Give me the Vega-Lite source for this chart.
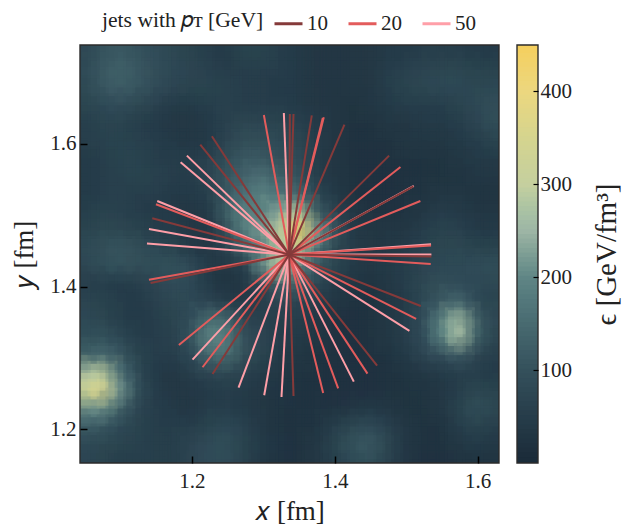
{"$schema":"https://vega.github.io/schema/vega-lite/v6.json","background":"white","padding":{"left":10,"top":8,"right":0,"bottom":4},"spacing":16,"config":{"font":"Liberation Serif","view":{"stroke":null}},"datasets":{"frame":[{"f":1}],"jets":[
{"pt":50,"x0":1.3361,"y0":1.4449,"x":1.3287,"y":1.6434},{"pt":50,"x0":1.3361,"y0":1.4449,"x":1.5105,"y":1.5411},{"pt":50,"x0":1.3361,"y0":1.4449,"x":1.5347,"y":1.4593},{"pt":50,"x0":1.3361,"y0":1.4449,"x":1.5352,"y":1.4449},{"pt":50,"x0":1.3361,"y0":1.4449,"x":1.5044,"y":1.3379},{"pt":50,"x0":1.3361,"y0":1.4449,"x":1.4266,"y":1.2669},{"pt":50,"x0":1.3361,"y0":1.4449,"x":1.3254,"y":1.2454},{"pt":50,"x0":1.3361,"y0":1.4449,"x":1.3012,"y":1.2477},{"pt":50,"x0":1.3361,"y0":1.4449,"x":1.2653,"y":1.2585},{"pt":50,"x0":1.3361,"y0":1.4449,"x":1.2009,"y":1.2977},{"pt":50,"x0":1.3361,"y0":1.4449,"x":1.1371,"y":1.4603},{"pt":50,"x0":1.3361,"y0":1.4449,"x":1.1399,"y":1.4808},{"pt":50,"x0":1.3361,"y0":1.4449,"x":1.1515,"y":1.5201},{"pt":50,"x0":1.3361,"y0":1.4449,"x":1.1842,"y":1.5743},{"pt":50,"x0":1.3361,"y0":1.4449,"x":1.1930,"y":1.5836},
{"pt":20,"x0":1.3361,"y0":1.4449,"x":1.3007,"y":1.6406},{"pt":20,"x0":1.3361,"y0":1.4449,"x":1.3846,"y":1.6373},{"pt":20,"x0":1.3361,"y0":1.4449,"x":1.3832,"y":1.6364},{"pt":20,"x0":1.3361,"y0":1.4449,"x":1.4919,"y":1.5677},{"pt":20,"x0":1.3361,"y0":1.4449,"x":1.5198,"y":1.5201},{"pt":20,"x0":1.3361,"y0":1.4449,"x":1.5347,"y":1.4575},{"pt":20,"x0":1.3361,"y0":1.4449,"x":1.5343,"y":1.4318},{"pt":20,"x0":1.3361,"y0":1.4449,"x":1.5138,"y":1.3547},{"pt":20,"x0":1.3361,"y0":1.4449,"x":1.4457,"y":1.2781},{"pt":20,"x0":1.3361,"y0":1.4449,"x":1.4047,"y":1.2575},{"pt":20,"x0":1.3361,"y0":1.4449,"x":1.3837,"y":1.2510},{"pt":20,"x0":1.3361,"y0":1.4449,"x":1.2149,"y":1.2870},{"pt":20,"x0":1.3361,"y0":1.4449,"x":1.1818,"y":1.3183},{"pt":20,"x0":1.3361,"y0":1.4449,"x":1.1399,"y":1.4098},{"pt":20,"x0":1.3361,"y0":1.4449,"x":1.1497,"y":1.5154},
{"pt":10,"x0":1.3361,"y0":1.4449,"x":1.3371,"y":1.6420},{"pt":10,"x0":1.3361,"y0":1.4449,"x":1.3422,"y":1.6420},{"pt":10,"x0":1.3361,"y0":1.4449,"x":1.3678,"y":1.6401},{"pt":10,"x0":1.3361,"y0":1.4449,"x":1.4135,"y":1.6271},{"pt":10,"x0":1.3361,"y0":1.4449,"x":1.4760,"y":1.5836},{"pt":10,"x0":1.3361,"y0":1.4449,"x":1.5100,"y":1.5406},{"pt":10,"x0":1.3361,"y0":1.4449,"x":1.5352,"y":1.4421},{"pt":10,"x0":1.3361,"y0":1.4449,"x":1.5203,"y":1.3729},{"pt":10,"x0":1.3361,"y0":1.4449,"x":1.4592,"y":1.2893},{"pt":10,"x0":1.3361,"y0":1.4449,"x":1.3422,"y":1.2468},{"pt":10,"x0":1.3361,"y0":1.4449,"x":1.2289,"y":1.2776},{"pt":10,"x0":1.3361,"y0":1.4449,"x":1.1422,"y":1.4052},{"pt":10,"x0":1.3361,"y0":1.4449,"x":1.1445,"y":1.4958},{"pt":10,"x0":1.3361,"y0":1.4449,"x":1.2117,"y":1.5990},{"pt":10,"x0":1.3361,"y0":1.4449,"x":1.2280,"y":1.6107}
],"field":[
{"x":1.05,"y":1.725,"v":75},{"x":1.075,"y":1.725,"v":105},{"x":1.1,"y":1.725,"v":120},{"x":1.125,"y":1.725,"v":105},{"x":1.15,"y":1.725,"v":90},{"x":1.175,"y":1.725,"v":80},{"x":1.2,"y":1.725,"v":70},{"x":1.225,"y":1.725,"v":55},{"x":1.25,"y":1.725,"v":50},{"x":1.275,"y":1.725,"v":70},{"x":1.3,"y":1.725,"v":70},{"x":1.325,"y":1.725,"v":55},{"x":1.35,"y":1.725,"v":45},{"x":1.375,"y":1.725,"v":40},{"x":1.4,"y":1.725,"v":35},{"x":1.425,"y":1.725,"v":35},{"x":1.45,"y":1.725,"v":40},{"x":1.475,"y":1.725,"v":45},{"x":1.5,"y":1.725,"v":50},{"x":1.525,"y":1.725,"v":55},{"x":1.55,"y":1.725,"v":60},{"x":1.575,"y":1.725,"v":55},{"x":1.6,"y":1.725,"v":50},{"x":1.625,"y":1.725,"v":50},
{"x":1.05,"y":1.7,"v":85},{"x":1.075,"y":1.7,"v":115},{"x":1.1,"y":1.7,"v":135},{"x":1.125,"y":1.7,"v":120},{"x":1.15,"y":1.7,"v":100},{"x":1.175,"y":1.7,"v":85},{"x":1.2,"y":1.7,"v":75},{"x":1.225,"y":1.7,"v":65},{"x":1.25,"y":1.7,"v":55},{"x":1.275,"y":1.7,"v":60},{"x":1.3,"y":1.7,"v":60},{"x":1.325,"y":1.7,"v":55},{"x":1.35,"y":1.7,"v":45},{"x":1.375,"y":1.7,"v":40},{"x":1.4,"y":1.7,"v":35},{"x":1.425,"y":1.7,"v":35},{"x":1.45,"y":1.7,"v":40},{"x":1.475,"y":1.7,"v":55},{"x":1.5,"y":1.7,"v":65},{"x":1.525,"y":1.7,"v":75},{"x":1.55,"y":1.7,"v":80},{"x":1.575,"y":1.7,"v":80},{"x":1.6,"y":1.7,"v":70},{"x":1.625,"y":1.7,"v":70},
{"x":1.05,"y":1.675,"v":80},{"x":1.075,"y":1.675,"v":110},{"x":1.1,"y":1.675,"v":125},{"x":1.125,"y":1.675,"v":110},{"x":1.15,"y":1.675,"v":90},{"x":1.175,"y":1.675,"v":75},{"x":1.2,"y":1.675,"v":70},{"x":1.225,"y":1.675,"v":70},{"x":1.25,"y":1.675,"v":65},{"x":1.275,"y":1.675,"v":55},{"x":1.3,"y":1.675,"v":55},{"x":1.325,"y":1.675,"v":50},{"x":1.35,"y":1.675,"v":45},{"x":1.375,"y":1.675,"v":40},{"x":1.4,"y":1.675,"v":35},{"x":1.425,"y":1.675,"v":35},{"x":1.45,"y":1.675,"v":40},{"x":1.475,"y":1.675,"v":60},{"x":1.5,"y":1.675,"v":70},{"x":1.525,"y":1.675,"v":80},{"x":1.55,"y":1.675,"v":85},{"x":1.575,"y":1.675,"v":85},{"x":1.6,"y":1.675,"v":80},{"x":1.625,"y":1.675,"v":85},
{"x":1.05,"y":1.65,"v":70},{"x":1.075,"y":1.65,"v":85},{"x":1.1,"y":1.65,"v":90},{"x":1.125,"y":1.65,"v":80},{"x":1.15,"y":1.65,"v":65},{"x":1.175,"y":1.65,"v":50},{"x":1.2,"y":1.65,"v":50},{"x":1.225,"y":1.65,"v":60},{"x":1.25,"y":1.65,"v":65},{"x":1.275,"y":1.65,"v":60},{"x":1.3,"y":1.65,"v":55},{"x":1.325,"y":1.65,"v":55},{"x":1.35,"y":1.65,"v":50},{"x":1.375,"y":1.65,"v":40},{"x":1.4,"y":1.65,"v":35},{"x":1.425,"y":1.65,"v":30},{"x":1.45,"y":1.65,"v":35},{"x":1.475,"y":1.65,"v":45},{"x":1.5,"y":1.65,"v":55},{"x":1.525,"y":1.65,"v":60},{"x":1.55,"y":1.65,"v":60},{"x":1.575,"y":1.65,"v":70},{"x":1.6,"y":1.65,"v":85},{"x":1.625,"y":1.65,"v":100},
{"x":1.05,"y":1.625,"v":60},{"x":1.075,"y":1.625,"v":70},{"x":1.1,"y":1.625,"v":70},{"x":1.125,"y":1.625,"v":60},{"x":1.15,"y":1.625,"v":50},{"x":1.175,"y":1.625,"v":40},{"x":1.2,"y":1.625,"v":38},{"x":1.225,"y":1.625,"v":45},{"x":1.25,"y":1.625,"v":65},{"x":1.275,"y":1.625,"v":80},{"x":1.3,"y":1.625,"v":75},{"x":1.325,"y":1.625,"v":70},{"x":1.35,"y":1.625,"v":65},{"x":1.375,"y":1.625,"v":50},{"x":1.4,"y":1.625,"v":35},{"x":1.425,"y":1.625,"v":30},{"x":1.45,"y":1.625,"v":30},{"x":1.475,"y":1.625,"v":35},{"x":1.5,"y":1.625,"v":40},{"x":1.525,"y":1.625,"v":45},{"x":1.55,"y":1.625,"v":45},{"x":1.575,"y":1.625,"v":55},{"x":1.6,"y":1.625,"v":75},{"x":1.625,"y":1.625,"v":95},
{"x":1.05,"y":1.6,"v":55},{"x":1.075,"y":1.6,"v":65},{"x":1.1,"y":1.6,"v":70},{"x":1.125,"y":1.6,"v":65},{"x":1.15,"y":1.6,"v":55},{"x":1.175,"y":1.6,"v":45},{"x":1.2,"y":1.6,"v":42},{"x":1.225,"y":1.6,"v":50},{"x":1.25,"y":1.6,"v":75},{"x":1.275,"y":1.6,"v":100},{"x":1.3,"y":1.6,"v":100},{"x":1.325,"y":1.6,"v":85},{"x":1.35,"y":1.6,"v":80},{"x":1.375,"y":1.6,"v":55},{"x":1.4,"y":1.6,"v":35},{"x":1.425,"y":1.6,"v":28},{"x":1.45,"y":1.6,"v":28},{"x":1.475,"y":1.6,"v":30},{"x":1.5,"y":1.6,"v":35},{"x":1.525,"y":1.6,"v":35},{"x":1.55,"y":1.6,"v":38},{"x":1.575,"y":1.6,"v":45},{"x":1.6,"y":1.6,"v":60},{"x":1.625,"y":1.6,"v":70},
{"x":1.05,"y":1.575,"v":48},{"x":1.075,"y":1.575,"v":60},{"x":1.1,"y":1.575,"v":70},{"x":1.125,"y":1.575,"v":70},{"x":1.15,"y":1.575,"v":60},{"x":1.175,"y":1.575,"v":55},{"x":1.2,"y":1.575,"v":55},{"x":1.225,"y":1.575,"v":65},{"x":1.25,"y":1.575,"v":95},{"x":1.275,"y":1.575,"v":115},{"x":1.3,"y":1.575,"v":115},{"x":1.325,"y":1.575,"v":100},{"x":1.35,"y":1.575,"v":90},{"x":1.375,"y":1.575,"v":55},{"x":1.4,"y":1.575,"v":35},{"x":1.425,"y":1.575,"v":28},{"x":1.45,"y":1.575,"v":25},{"x":1.475,"y":1.575,"v":28},{"x":1.5,"y":1.575,"v":30},{"x":1.525,"y":1.575,"v":30},{"x":1.55,"y":1.575,"v":32},{"x":1.575,"y":1.575,"v":38},{"x":1.6,"y":1.575,"v":45},{"x":1.625,"y":1.575,"v":50},
{"x":1.05,"y":1.55,"v":45},{"x":1.075,"y":1.55,"v":55},{"x":1.1,"y":1.55,"v":65},{"x":1.125,"y":1.55,"v":70},{"x":1.15,"y":1.55,"v":65},{"x":1.175,"y":1.55,"v":55},{"x":1.2,"y":1.55,"v":55},{"x":1.225,"y":1.55,"v":75},{"x":1.25,"y":1.55,"v":110},{"x":1.275,"y":1.55,"v":140},{"x":1.3,"y":1.55,"v":165},{"x":1.325,"y":1.55,"v":130},{"x":1.35,"y":1.55,"v":105},{"x":1.375,"y":1.55,"v":60},{"x":1.4,"y":1.55,"v":38},{"x":1.425,"y":1.55,"v":28},{"x":1.45,"y":1.55,"v":25},{"x":1.475,"y":1.55,"v":25},{"x":1.5,"y":1.55,"v":28},{"x":1.525,"y":1.55,"v":28},{"x":1.55,"y":1.55,"v":30},{"x":1.575,"y":1.55,"v":32},{"x":1.6,"y":1.55,"v":35},{"x":1.625,"y":1.55,"v":38},
{"x":1.05,"y":1.525,"v":50},{"x":1.075,"y":1.525,"v":60},{"x":1.1,"y":1.525,"v":65},{"x":1.125,"y":1.525,"v":60},{"x":1.15,"y":1.525,"v":55},{"x":1.175,"y":1.525,"v":50},{"x":1.2,"y":1.525,"v":45},{"x":1.225,"y":1.525,"v":60},{"x":1.25,"y":1.525,"v":110},{"x":1.275,"y":1.525,"v":170},{"x":1.3,"y":1.525,"v":190},{"x":1.325,"y":1.525,"v":170},{"x":1.35,"y":1.525,"v":150},{"x":1.375,"y":1.525,"v":85},{"x":1.4,"y":1.525,"v":45},{"x":1.425,"y":1.525,"v":30},{"x":1.45,"y":1.525,"v":25},{"x":1.475,"y":1.525,"v":25},{"x":1.5,"y":1.525,"v":28},{"x":1.525,"y":1.525,"v":32},{"x":1.55,"y":1.525,"v":38},{"x":1.575,"y":1.525,"v":38},{"x":1.6,"y":1.525,"v":32},{"x":1.625,"y":1.525,"v":32},
{"x":1.05,"y":1.5,"v":60},{"x":1.075,"y":1.5,"v":70},{"x":1.1,"y":1.5,"v":65},{"x":1.125,"y":1.5,"v":55},{"x":1.15,"y":1.5,"v":50},{"x":1.175,"y":1.5,"v":45},{"x":1.2,"y":1.5,"v":38},{"x":1.225,"y":1.5,"v":50},{"x":1.25,"y":1.5,"v":130},{"x":1.275,"y":1.5,"v":190},{"x":1.3,"y":1.5,"v":190},{"x":1.325,"y":1.5,"v":240},{"x":1.35,"y":1.5,"v":300},{"x":1.375,"y":1.5,"v":130},{"x":1.4,"y":1.5,"v":75},{"x":1.425,"y":1.5,"v":40},{"x":1.45,"y":1.5,"v":30},{"x":1.475,"y":1.5,"v":28},{"x":1.5,"y":1.5,"v":32},{"x":1.525,"y":1.5,"v":42},{"x":1.55,"y":1.5,"v":55},{"x":1.575,"y":1.5,"v":50},{"x":1.6,"y":1.5,"v":38},{"x":1.625,"y":1.5,"v":35},
{"x":1.05,"y":1.475,"v":70},{"x":1.075,"y":1.475,"v":80},{"x":1.1,"y":1.475,"v":80},{"x":1.125,"y":1.475,"v":70},{"x":1.15,"y":1.475,"v":60},{"x":1.175,"y":1.475,"v":55},{"x":1.2,"y":1.475,"v":35},{"x":1.225,"y":1.475,"v":35},{"x":1.25,"y":1.475,"v":100},{"x":1.275,"y":1.475,"v":190},{"x":1.3,"y":1.475,"v":220},{"x":1.325,"y":1.475,"v":300},{"x":1.35,"y":1.475,"v":450},{"x":1.375,"y":1.475,"v":230},{"x":1.4,"y":1.475,"v":110},{"x":1.425,"y":1.475,"v":50},{"x":1.45,"y":1.475,"v":35},{"x":1.475,"y":1.475,"v":35},{"x":1.5,"y":1.475,"v":40},{"x":1.525,"y":1.475,"v":55},{"x":1.55,"y":1.475,"v":70},{"x":1.575,"y":1.475,"v":65},{"x":1.6,"y":1.475,"v":50},{"x":1.625,"y":1.475,"v":45},
{"x":1.05,"y":1.45,"v":85},{"x":1.075,"y":1.45,"v":100},{"x":1.1,"y":1.45,"v":110},{"x":1.125,"y":1.45,"v":100},{"x":1.15,"y":1.45,"v":85},{"x":1.175,"y":1.45,"v":70},{"x":1.2,"y":1.45,"v":50},{"x":1.225,"y":1.45,"v":40},{"x":1.25,"y":1.45,"v":65},{"x":1.275,"y":1.45,"v":130},{"x":1.3,"y":1.45,"v":190},{"x":1.325,"y":1.45,"v":280},{"x":1.35,"y":1.45,"v":300},{"x":1.375,"y":1.45,"v":170},{"x":1.4,"y":1.45,"v":80},{"x":1.425,"y":1.45,"v":55},{"x":1.45,"y":1.45,"v":40},{"x":1.475,"y":1.45,"v":40},{"x":1.5,"y":1.45,"v":50},{"x":1.525,"y":1.45,"v":65},{"x":1.55,"y":1.45,"v":80},{"x":1.575,"y":1.45,"v":80},{"x":1.6,"y":1.45,"v":70},{"x":1.625,"y":1.45,"v":70},
{"x":1.05,"y":1.425,"v":75},{"x":1.075,"y":1.425,"v":95},{"x":1.1,"y":1.425,"v":105},{"x":1.125,"y":1.425,"v":100},{"x":1.15,"y":1.425,"v":95},{"x":1.175,"y":1.425,"v":105},{"x":1.2,"y":1.425,"v":90},{"x":1.225,"y":1.425,"v":50},{"x":1.25,"y":1.425,"v":38},{"x":1.275,"y":1.425,"v":60},{"x":1.3,"y":1.425,"v":210},{"x":1.325,"y":1.425,"v":290},{"x":1.35,"y":1.425,"v":200},{"x":1.375,"y":1.425,"v":110},{"x":1.4,"y":1.425,"v":80},{"x":1.425,"y":1.425,"v":45},{"x":1.45,"y":1.425,"v":40},{"x":1.475,"y":1.425,"v":45},{"x":1.5,"y":1.425,"v":60},{"x":1.525,"y":1.425,"v":75},{"x":1.55,"y":1.425,"v":85},{"x":1.575,"y":1.425,"v":85},{"x":1.6,"y":1.425,"v":90},{"x":1.625,"y":1.425,"v":95},
{"x":1.05,"y":1.4,"v":60},{"x":1.075,"y":1.4,"v":60},{"x":1.1,"y":1.4,"v":50},{"x":1.125,"y":1.4,"v":55},{"x":1.15,"y":1.4,"v":75},{"x":1.175,"y":1.4,"v":90},{"x":1.2,"y":1.4,"v":85},{"x":1.225,"y":1.4,"v":50},{"x":1.25,"y":1.4,"v":32},{"x":1.275,"y":1.4,"v":35},{"x":1.3,"y":1.4,"v":75},{"x":1.325,"y":1.4,"v":130},{"x":1.35,"y":1.4,"v":130},{"x":1.375,"y":1.4,"v":85},{"x":1.4,"y":1.4,"v":50},{"x":1.425,"y":1.4,"v":35},{"x":1.45,"y":1.4,"v":32},{"x":1.475,"y":1.4,"v":38},{"x":1.5,"y":1.4,"v":55},{"x":1.525,"y":1.4,"v":80},{"x":1.55,"y":1.4,"v":100},{"x":1.575,"y":1.4,"v":90},{"x":1.6,"y":1.4,"v":85},{"x":1.625,"y":1.4,"v":80},
{"x":1.05,"y":1.375,"v":75},{"x":1.075,"y":1.375,"v":70},{"x":1.1,"y":1.375,"v":55},{"x":1.125,"y":1.375,"v":50},{"x":1.15,"y":1.375,"v":65},{"x":1.175,"y":1.375,"v":80},{"x":1.2,"y":1.375,"v":85},{"x":1.225,"y":1.375,"v":75},{"x":1.25,"y":1.375,"v":60},{"x":1.275,"y":1.375,"v":45},{"x":1.3,"y":1.375,"v":60},{"x":1.325,"y":1.375,"v":75},{"x":1.35,"y":1.375,"v":75},{"x":1.375,"y":1.375,"v":55},{"x":1.4,"y":1.375,"v":35},{"x":1.425,"y":1.375,"v":28},{"x":1.45,"y":1.375,"v":28},{"x":1.475,"y":1.375,"v":35},{"x":1.5,"y":1.375,"v":50},{"x":1.525,"y":1.375,"v":85},{"x":1.55,"y":1.375,"v":120},{"x":1.575,"y":1.375,"v":150},{"x":1.6,"y":1.375,"v":85},{"x":1.625,"y":1.375,"v":70},
{"x":1.05,"y":1.35,"v":85},{"x":1.075,"y":1.35,"v":80},{"x":1.1,"y":1.35,"v":60},{"x":1.125,"y":1.35,"v":50},{"x":1.15,"y":1.35,"v":55},{"x":1.175,"y":1.35,"v":70},{"x":1.2,"y":1.35,"v":90},{"x":1.225,"y":1.35,"v":160},{"x":1.25,"y":1.35,"v":150},{"x":1.275,"y":1.35,"v":75},{"x":1.3,"y":1.35,"v":65},{"x":1.325,"y":1.35,"v":60},{"x":1.35,"y":1.35,"v":55},{"x":1.375,"y":1.35,"v":42},{"x":1.4,"y":1.35,"v":28},{"x":1.425,"y":1.35,"v":26},{"x":1.45,"y":1.35,"v":30},{"x":1.475,"y":1.35,"v":38},{"x":1.5,"y":1.35,"v":55},{"x":1.525,"y":1.35,"v":90},{"x":1.55,"y":1.35,"v":190},{"x":1.575,"y":1.35,"v":270},{"x":1.6,"y":1.35,"v":130},{"x":1.625,"y":1.35,"v":75},
{"x":1.05,"y":1.325,"v":95},{"x":1.075,"y":1.325,"v":105},{"x":1.1,"y":1.325,"v":85},{"x":1.125,"y":1.325,"v":60},{"x":1.15,"y":1.325,"v":55},{"x":1.175,"y":1.325,"v":65},{"x":1.2,"y":1.325,"v":105},{"x":1.225,"y":1.325,"v":200},{"x":1.25,"y":1.325,"v":190},{"x":1.275,"y":1.325,"v":100},{"x":1.3,"y":1.325,"v":75},{"x":1.325,"y":1.325,"v":60},{"x":1.35,"y":1.325,"v":45},{"x":1.375,"y":1.325,"v":35},{"x":1.4,"y":1.325,"v":28},{"x":1.425,"y":1.325,"v":26},{"x":1.45,"y":1.325,"v":30},{"x":1.475,"y":1.325,"v":40},{"x":1.5,"y":1.325,"v":60},{"x":1.525,"y":1.325,"v":90},{"x":1.55,"y":1.325,"v":190},{"x":1.575,"y":1.325,"v":270},{"x":1.6,"y":1.325,"v":130},{"x":1.625,"y":1.325,"v":70},
{"x":1.05,"y":1.3,"v":130},{"x":1.075,"y":1.3,"v":150},{"x":1.1,"y":1.3,"v":115},{"x":1.125,"y":1.3,"v":70},{"x":1.15,"y":1.3,"v":55},{"x":1.175,"y":1.3,"v":55},{"x":1.2,"y":1.3,"v":85},{"x":1.225,"y":1.3,"v":150},{"x":1.25,"y":1.3,"v":160},{"x":1.275,"y":1.3,"v":100},{"x":1.3,"y":1.3,"v":70},{"x":1.325,"y":1.3,"v":50},{"x":1.35,"y":1.3,"v":38},{"x":1.375,"y":1.3,"v":30},{"x":1.4,"y":1.3,"v":28},{"x":1.425,"y":1.3,"v":26},{"x":1.45,"y":1.3,"v":28},{"x":1.475,"y":1.3,"v":32},{"x":1.5,"y":1.3,"v":45},{"x":1.525,"y":1.3,"v":75},{"x":1.55,"y":1.3,"v":90},{"x":1.575,"y":1.3,"v":115},{"x":1.6,"y":1.3,"v":75},{"x":1.625,"y":1.3,"v":55},
{"x":1.05,"y":1.275,"v":270},{"x":1.075,"y":1.275,"v":300},{"x":1.1,"y":1.275,"v":170},{"x":1.125,"y":1.275,"v":85},{"x":1.15,"y":1.275,"v":50},{"x":1.175,"y":1.275,"v":42},{"x":1.2,"y":1.275,"v":55},{"x":1.225,"y":1.275,"v":75},{"x":1.25,"y":1.275,"v":80},{"x":1.275,"y":1.275,"v":65},{"x":1.3,"y":1.275,"v":50},{"x":1.325,"y":1.275,"v":40},{"x":1.35,"y":1.275,"v":32},{"x":1.375,"y":1.275,"v":28},{"x":1.4,"y":1.275,"v":26},{"x":1.425,"y":1.275,"v":26},{"x":1.45,"y":1.275,"v":26},{"x":1.475,"y":1.275,"v":28},{"x":1.5,"y":1.275,"v":32},{"x":1.525,"y":1.275,"v":40},{"x":1.55,"y":1.275,"v":50},{"x":1.575,"y":1.275,"v":55},{"x":1.6,"y":1.275,"v":55},{"x":1.625,"y":1.275,"v":48},
{"x":1.05,"y":1.25,"v":340},{"x":1.075,"y":1.25,"v":360},{"x":1.1,"y":1.25,"v":220},{"x":1.125,"y":1.25,"v":95},{"x":1.15,"y":1.25,"v":55},{"x":1.175,"y":1.25,"v":40},{"x":1.2,"y":1.25,"v":40},{"x":1.225,"y":1.25,"v":50},{"x":1.25,"y":1.25,"v":55},{"x":1.275,"y":1.25,"v":50},{"x":1.3,"y":1.25,"v":40},{"x":1.325,"y":1.25,"v":33},{"x":1.35,"y":1.25,"v":30},{"x":1.375,"y":1.25,"v":28},{"x":1.4,"y":1.25,"v":26},{"x":1.425,"y":1.25,"v":26},{"x":1.45,"y":1.25,"v":26},{"x":1.475,"y":1.25,"v":28},{"x":1.5,"y":1.25,"v":30},{"x":1.525,"y":1.25,"v":32},{"x":1.55,"y":1.25,"v":38},{"x":1.575,"y":1.25,"v":60},{"x":1.6,"y":1.25,"v":80},{"x":1.625,"y":1.25,"v":70},
{"x":1.05,"y":1.225,"v":200},{"x":1.075,"y":1.225,"v":210},{"x":1.1,"y":1.225,"v":130},{"x":1.125,"y":1.225,"v":75},{"x":1.15,"y":1.225,"v":55},{"x":1.175,"y":1.225,"v":45},{"x":1.2,"y":1.225,"v":42},{"x":1.225,"y":1.225,"v":55},{"x":1.25,"y":1.225,"v":60},{"x":1.275,"y":1.225,"v":50},{"x":1.3,"y":1.225,"v":38},{"x":1.325,"y":1.225,"v":30},{"x":1.35,"y":1.225,"v":28},{"x":1.375,"y":1.225,"v":28},{"x":1.4,"y":1.225,"v":32},{"x":1.425,"y":1.225,"v":40},{"x":1.45,"y":1.225,"v":45},{"x":1.475,"y":1.225,"v":38},{"x":1.5,"y":1.225,"v":30},{"x":1.525,"y":1.225,"v":30},{"x":1.55,"y":1.225,"v":35},{"x":1.575,"y":1.225,"v":70},{"x":1.6,"y":1.225,"v":95},{"x":1.625,"y":1.225,"v":80},
{"x":1.05,"y":1.2,"v":115},{"x":1.075,"y":1.2,"v":110},{"x":1.1,"y":1.2,"v":85},{"x":1.125,"y":1.2,"v":70},{"x":1.15,"y":1.2,"v":60},{"x":1.175,"y":1.2,"v":55},{"x":1.2,"y":1.2,"v":55},{"x":1.225,"y":1.2,"v":70},{"x":1.25,"y":1.2,"v":85},{"x":1.275,"y":1.2,"v":65},{"x":1.3,"y":1.2,"v":42},{"x":1.325,"y":1.2,"v":32},{"x":1.35,"y":1.2,"v":28},{"x":1.375,"y":1.2,"v":32},{"x":1.4,"y":1.2,"v":55},{"x":1.425,"y":1.2,"v":80},{"x":1.45,"y":1.2,"v":90},{"x":1.475,"y":1.2,"v":65},{"x":1.5,"y":1.2,"v":38},{"x":1.525,"y":1.2,"v":28},{"x":1.55,"y":1.2,"v":30},{"x":1.575,"y":1.2,"v":55},{"x":1.6,"y":1.2,"v":70},{"x":1.625,"y":1.2,"v":60},
{"x":1.05,"y":1.175,"v":85},{"x":1.075,"y":1.175,"v":80},{"x":1.1,"y":1.175,"v":70},{"x":1.125,"y":1.175,"v":65},{"x":1.15,"y":1.175,"v":60},{"x":1.175,"y":1.175,"v":60},{"x":1.2,"y":1.175,"v":75},{"x":1.225,"y":1.175,"v":90},{"x":1.25,"y":1.175,"v":95},{"x":1.275,"y":1.175,"v":70},{"x":1.3,"y":1.175,"v":45},{"x":1.325,"y":1.175,"v":33},{"x":1.35,"y":1.175,"v":28},{"x":1.375,"y":1.175,"v":38},{"x":1.4,"y":1.175,"v":70},{"x":1.425,"y":1.175,"v":105},{"x":1.45,"y":1.175,"v":115},{"x":1.475,"y":1.175,"v":80},{"x":1.5,"y":1.175,"v":42},{"x":1.525,"y":1.175,"v":28},{"x":1.55,"y":1.175,"v":28},{"x":1.575,"y":1.175,"v":38},{"x":1.6,"y":1.175,"v":45},{"x":1.625,"y":1.175,"v":42},
{"x":1.05,"y":1.15,"v":75},{"x":1.075,"y":1.15,"v":70},{"x":1.1,"y":1.15,"v":60},{"x":1.125,"y":1.15,"v":60},{"x":1.15,"y":1.15,"v":60},{"x":1.175,"y":1.15,"v":60},{"x":1.2,"y":1.15,"v":75},{"x":1.225,"y":1.15,"v":90},{"x":1.25,"y":1.15,"v":90},{"x":1.275,"y":1.15,"v":65},{"x":1.3,"y":1.15,"v":40},{"x":1.325,"y":1.15,"v":30},{"x":1.35,"y":1.15,"v":28},{"x":1.375,"y":1.15,"v":35},{"x":1.4,"y":1.15,"v":60},{"x":1.425,"y":1.15,"v":85},{"x":1.45,"y":1.15,"v":95},{"x":1.475,"y":1.15,"v":65},{"x":1.5,"y":1.15,"v":35},{"x":1.525,"y":1.15,"v":25},{"x":1.55,"y":1.15,"v":25},{"x":1.575,"y":1.15,"v":30},{"x":1.6,"y":1.15,"v":32},{"x":1.625,"y":1.15,"v":32}
],"bar":[{"v":0},{"v":5},{"v":10},{"v":15},{"v":20},{"v":25},{"v":30},{"v":35},{"v":40},{"v":45},{"v":50},{"v":55},{"v":60},{"v":65},{"v":70},{"v":75},{"v":80},{"v":85},{"v":90},{"v":95},{"v":100},{"v":105},{"v":110},{"v":115},{"v":120},{"v":125},{"v":130},{"v":135},{"v":140},{"v":145},{"v":150},{"v":155},{"v":160},{"v":165},{"v":170},{"v":175},{"v":180},{"v":185},{"v":190},{"v":195},{"v":200},{"v":205},{"v":210},{"v":215},{"v":220},{"v":225},{"v":230},{"v":235},{"v":240},{"v":245},{"v":250},{"v":255},{"v":260},{"v":265},{"v":270},{"v":275},{"v":280},{"v":285},{"v":290},{"v":295},{"v":300},{"v":305},{"v":310},{"v":315},{"v":320},{"v":325},{"v":330},{"v":335},{"v":340},{"v":345},{"v":350},{"v":355},{"v":360},{"v":365},{"v":370},{"v":375},{"v":380},{"v":385},{"v":390},{"v":395},{"v":400},{"v":405},{"v":410},{"v":415},{"v":420},{"v":425},{"v":430},{"v":435},{"v":440},{"v":445},{"v":450}]},
"hconcat":[
{"width":419,"height":418,"view":{"fill":"#2a404d"},"layer":[
{"data":{"name":"field"},"mark":{"type":"rect","width":19,"height":20,"clip":true},"encoding":{
"x":{"field":"x","type":"quantitative","scale":{"domain":[1.0434,1.6298],"nice":false,"zero":false},"axis":{"zindex":1,"values":[1.2,1.4,1.6],"format":".1f","title":"𝑥 [fm]","titleFontSize":27,"titleFontWeight":"normal","titleColor":"#222222","titlePadding":7,"grid":false,"domain":false,"tickColor":"black","tickSize":-7,"tickWidth":1.5,"labelFontSize":21,"labelColor":"#222222","labelPadding":14}},
"y":{"field":"y","type":"quantitative","scale":{"domain":[1.1528,1.7387],"nice":false,"zero":false},"axis":{"zindex":1,"values":[1.2,1.4,1.6],"format":".1f","title":"𝑦 [fm]","titleFontSize":27,"titleFontWeight":"normal","titleColor":"#222222","titlePadding":11,"grid":false,"domain":false,"tickColor":"black","tickSize":-7,"tickWidth":1.5,"labelFontSize":21,"labelColor":"#222222","labelPadding":11}},
"fill":{"field":"v","type":"quantitative","scale":{"domain":[0.5,100,200,250,300,400,450],"range":["#1a2a38","#34505b","#5f8585","#9db5a5","#c5cf9f","#ecd77f","#f5cf5e"],"clamp":true},"legend":null}}},
{"data":{"name":"field"},"mark":{"type":"rect","width":54,"height":54,"clip":true,"opacity":0.22},"encoding":{"x":{"field":"x","type":"quantitative"},"y":{"field":"y","type":"quantitative"},"fill":{"field":"v","type":"quantitative"}}},
{"data":{"name":"field"},"mark":{"type":"rect","width":48,"height":48,"clip":true,"opacity":0.25},"encoding":{"x":{"field":"x","type":"quantitative"},"y":{"field":"y","type":"quantitative"},"fill":{"field":"v","type":"quantitative"},"order":[{"field":"y","sort":"ascending"},{"field":"x","sort":"descending"}]}},
{"data":{"name":"field"},"mark":{"type":"rect","width":42,"height":42,"clip":true,"opacity":0.28},"encoding":{"x":{"field":"x","type":"quantitative"},"y":{"field":"y","type":"quantitative"},"fill":{"field":"v","type":"quantitative"},"order":[{"field":"y","sort":"descending"},{"field":"x","sort":"descending"}]}},
{"data":{"name":"field"},"mark":{"type":"rect","width":30,"height":30,"clip":true,"opacity":0.3},"encoding":{"x":{"field":"x","type":"quantitative"},"y":{"field":"y","type":"quantitative"},"fill":{"field":"v","type":"quantitative"},"order":[{"field":"y","sort":"ascending"},{"field":"x","sort":"ascending"}]}},
{"data":{"name":"field"},"mark":{"type":"rect","width":24,"height":24,"clip":true,"opacity":0.3},"encoding":{"x":{"field":"x","type":"quantitative"},"y":{"field":"y","type":"quantitative"},"fill":{"field":"v","type":"quantitative"},"order":[{"field":"y","sort":"descending"},{"field":"x","sort":"ascending"}]}},
{"data":{"name":"jets"},"mark":{"type":"rule","strokeWidth":2,"clip":true},"encoding":{
"x":{"field":"x0","type":"quantitative"},"y":{"field":"y0","type":"quantitative"},"x2":{"field":"x"},"y2":{"field":"y"},
"stroke":{"field":"pt","type":"ordinal","sort":[10,20,50],"scale":{"domain":[10,20,50],"range":["#853a3a","#e35c5c","#ff9fa8"]},"legend":{"orient":"none","legendX":22,"legendY":-37,"direction":"horizontal","columns":3,"title":"jets with 𝑝ᴛ [GeV]","titleOrient":"left","titleFontSize":21.6,"titleFontWeight":"normal","titleColor":"#222222","titlePadding":9,"titleLimit":400,"labelFontSize":21,"labelColor":"#222222","symbolType":"stroke","symbolStrokeWidth":3,"symbolSize":784,"columnPadding":14,"labelOffset":3}}}},
{"data":{"name":"frame"},"mark":{"type":"rect","fill":null,"stroke":"#2b2b2b","strokeWidth":1.4,"clip":false},"encoding":{}}
]},
{"width":21,"height":418,"layer":[
{"data":{"name":"bar"},"mark":{"type":"rect","height":6,"clip":true},"encoding":{
"y":{"field":"v","type":"quantitative","scale":{"domain":[0.5,450],"nice":false,"zero":false},"axis":{"zindex":1,"orient":"right","values":[100,200,300,400],"title":"ϵ [GeV/fm³]","titleAngle":-90,"titleFontSize":29,"titleFontWeight":"normal","titleColor":"#222222","titlePadding":50,"grid":false,"domain":false,"tickColor":"black","tickSize":-5,"tickWidth":1.2,"labelFontSize":21,"labelColor":"#222222","labelPadding":7}},
"fill":{"field":"v","type":"quantitative","scale":{"domain":[0.5,100,200,250,300,400,450],"range":["#1a2a38","#34505b","#5f8585","#9db5a5","#c5cf9f","#ecd77f","#f5cf5e"]},"legend":null}}},
{"data":{"name":"frame"},"mark":{"type":"rect","fill":null,"stroke":"#2b2b2b","strokeWidth":1.4,"clip":false},"encoding":{}}
]}
]}
